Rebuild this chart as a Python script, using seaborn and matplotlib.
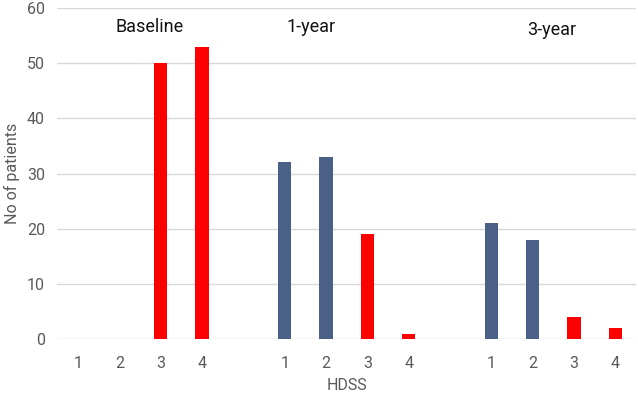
import matplotlib
matplotlib.use('Agg')
import matplotlib.pyplot as plt
import seaborn as sns
import numpy as np
import pandas as pd

# HDSS counts per follow-up
groups = ['Baseline', '1-year', '3-year']
hdss = [1, 2, 3, 4]
baseline = [0, 0, 50, 53]
year1 = [32, 33, 19, 1]
year3 = [21, 18, 4, 2]

BLUE = '#4a6086'
RED = '#ff0000'

rows = []
for g, (name, vals) in enumerate(zip(groups, [baseline, year1, year3])):
    for h, v in zip(hdss, vals):
        rows.append({'group': name, 'pos': g * 5 + (h - 1), 'hdss': h,
                     'count': v, 'sev': 'mild' if h <= 2 else 'severe'})
df = pd.DataFrame(rows)

sns.set_theme(style='white')
plt.rcParams['font.family'] = ['Roboto', 'DejaVu Sans']

fig, ax = plt.subplots(figsize=(6.38, 3.93), dpi=100)
sns.barplot(data=df, x='pos', y='count', hue='sev', native_scale=True,
            palette={'mild': BLUE, 'severe': RED}, dodge=False,
            width=0.32, legend=False, ax=ax, saturation=1, linewidth=0)

ax.set_xlim(-0.5, 13.5)
ax.set_ylim(0, 60)
ax.set_yticks(np.arange(0, 61, 10))
ax.set_xticks(df['pos'])
ax.set_xticklabels(df['hdss'])
ax.tick_params(axis='y', labelsize=11.5, colors='#595959', length=0, pad=9)
ax.tick_params(axis='x', labelsize=11.5, colors='#595959', length=0, pad=12)
ax.yaxis.grid(True, color='#d9d9d9', linewidth=1)
ax.set_axisbelow(True)
for s in ax.spines.values():
    s.set_visible(False)

ax.set_xlabel('HDSS', fontsize=11.5, color='#595959', labelpad=5)
ax.set_ylabel('No of patients', fontsize=11.5, color='#595959', labelpad=5)

label_pos = [(1.74, 56.5), (5.63, 56.5), (11.47, 56.0)]
for name, (x, y) in zip(groups, label_pos):
    ax.text(x, y, name, ha='center', va='center', fontsize=13, color='#111111')

fig.subplots_adjust(left=0.09, right=0.997, top=0.98, bottom=0.137)
fig.savefig('out.png', dpi=100)
